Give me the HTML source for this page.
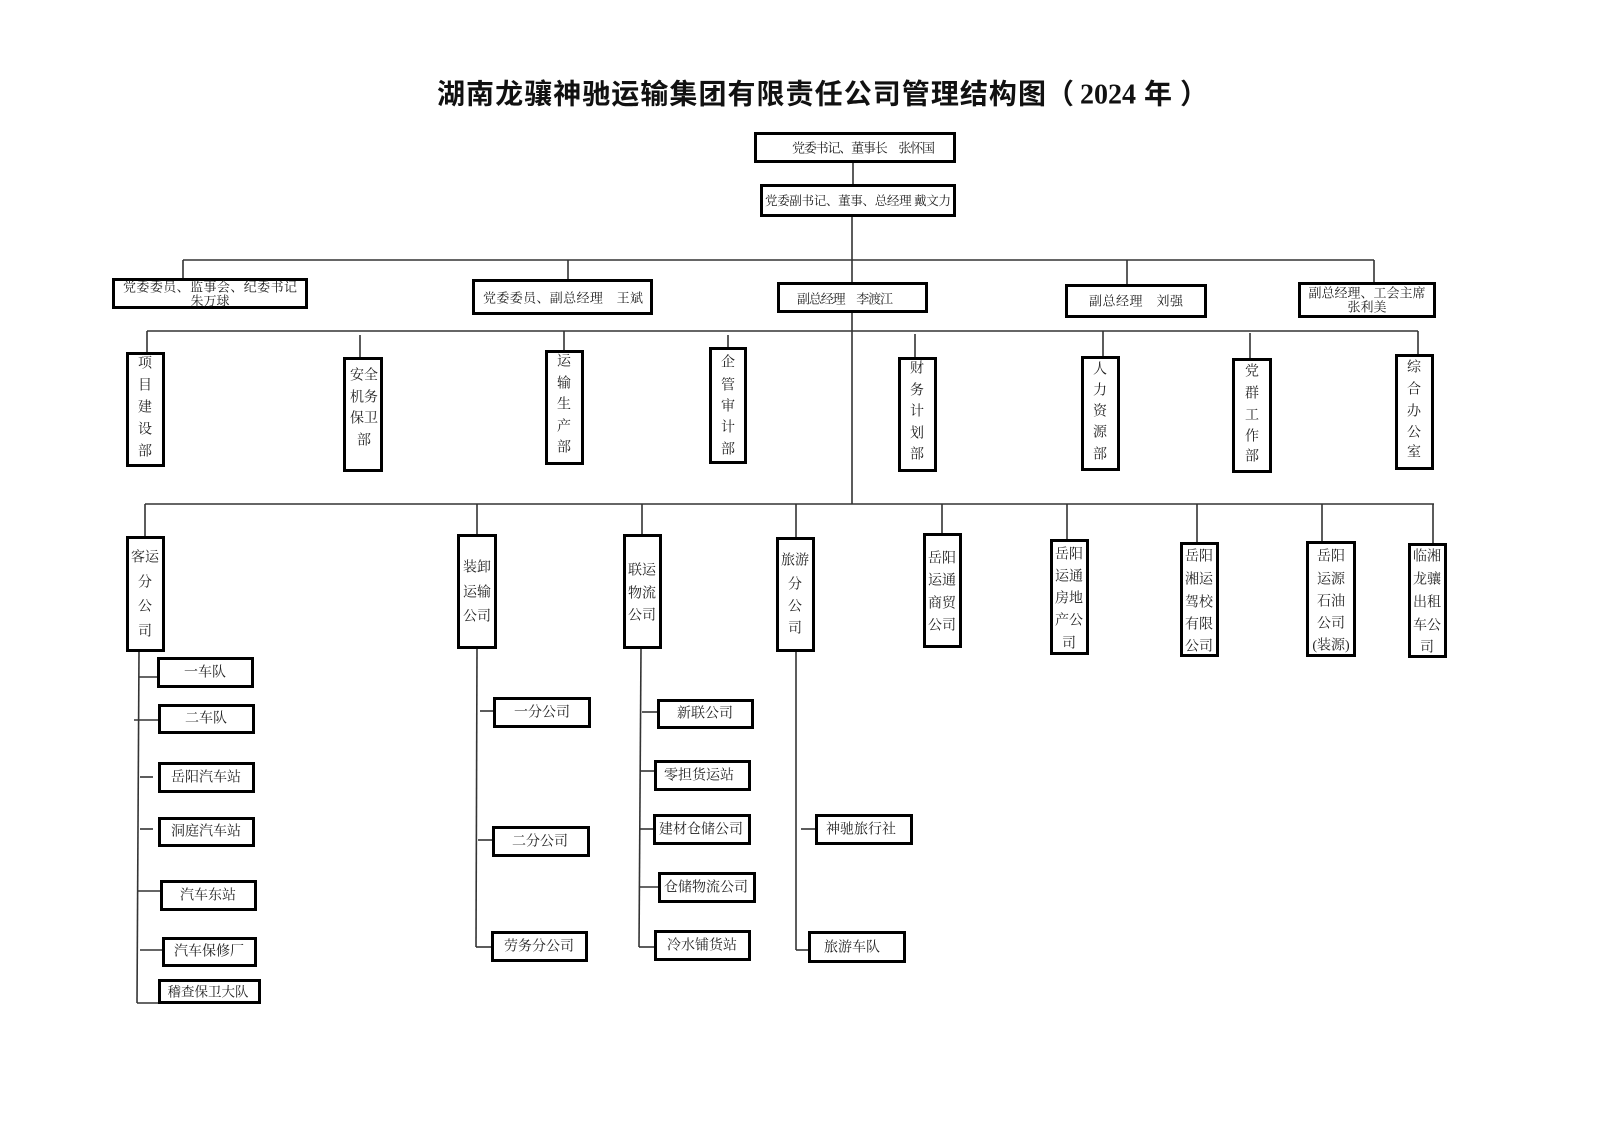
<!DOCTYPE html>
<html>
<head>
<meta charset="utf-8">
<style>
  html, body { margin: 0; padding: 0; background: #ffffff; }
  body { width: 1600px; height: 1131px; overflow: hidden; }
  svg { display: block; }
  .t { font-family: "Liberation Serif", "Noto Serif CJK SC", serif; fill: #222; }
  .ttl { font-family: "Liberation Serif", "Noto Sans CJK SC", sans-serif; font-weight: bold; fill: #111; }
  .ln { stroke: #333; stroke-width: 1.6; fill: none; }
  .bx { stroke: #000; stroke-width: 3; fill: #fff; }
</style>
</head>
<body>
<svg width="1600" height="1131" viewBox="0 0 1600 1131" xmlns="http://www.w3.org/2000/svg">
  <rect x="0" y="0" width="1600" height="1131" fill="#fff"/>

  <!-- Title -->
  <text class="ttl" x="437" y="95" font-size="28" dominant-baseline="central" textLength="609" lengthAdjust="spacing">湖南龙骧神驰运输集团有限责任公司管理结构图</text>
  <text class="ttl" x="1046" y="95" font-size="28" dominant-baseline="central">（</text>
  <text class="ttl" x="1080" y="95" font-size="28" dominant-baseline="central">2024</text>
  <text class="ttl" x="1144" y="95" font-size="28" dominant-baseline="central">年</text>
  <text class="ttl" x="1180" y="95" font-size="28" dominant-baseline="central">）</text>

  <!-- Connectors level 1 -->
  <line class="ln" x1="853" y1="163" x2="853" y2="185"/>
  <line class="ln" x1="852" y1="217" x2="852" y2="504"/>
  <line class="ln" x1="183" y1="260" x2="1374" y2="260"/>
  <line class="ln" x1="183" y1="260" x2="183" y2="279"/>
  <line class="ln" x1="568" y1="260" x2="568" y2="280"/>
  <line class="ln" x1="1127" y1="260" x2="1127" y2="285"/>
  <line class="ln" x1="1374" y1="260" x2="1374" y2="283"/>

  <!-- Connectors level 2 -->
  <line class="ln" x1="147" y1="331" x2="1418" y2="331"/>
  <line class="ln" x1="147" y1="331" x2="147" y2="353"/>
  <line class="ln" x1="360" y1="335" x2="360" y2="358"/>
  <line class="ln" x1="564" y1="331" x2="564" y2="351"/>
  <line class="ln" x1="728" y1="335" x2="728" y2="348"/>
  <line class="ln" x1="915" y1="334" x2="915" y2="358"/>
  <line class="ln" x1="1103" y1="331" x2="1103" y2="357"/>
  <line class="ln" x1="1250" y1="333" x2="1250" y2="359"/>
  <line class="ln" x1="1418" y1="331" x2="1418" y2="355"/>

  <!-- Connectors level 3 -->
  <line class="ln" x1="145" y1="504" x2="1434" y2="504"/>
  <line class="ln" x1="145" y1="504" x2="145" y2="537"/>
  <line class="ln" x1="477" y1="504" x2="477" y2="535"/>
  <line class="ln" x1="642" y1="504" x2="642" y2="535"/>
  <line class="ln" x1="796" y1="504" x2="796" y2="538"/>
  <line class="ln" x1="942" y1="504" x2="942" y2="534"/>
  <line class="ln" x1="1067" y1="504" x2="1067" y2="540"/>
  <line class="ln" x1="1197" y1="504" x2="1197" y2="543"/>
  <line class="ln" x1="1322" y1="504" x2="1322" y2="542"/>
  <line class="ln" x1="1433" y1="504" x2="1433" y2="544"/>

  <!-- Connectors level 4: 客运 -->
  <line class="ln" x1="139" y1="652" x2="137" y2="1003"/>
  <line class="ln" x1="137" y1="1003" x2="158" y2="1003"/>
  <line class="ln" x1="139" y1="677" x2="158" y2="677"/>
  <line class="ln" x1="134" y1="720" x2="159" y2="720"/>
  <line class="ln" x1="140" y1="777" x2="153" y2="777"/>
  <line class="ln" x1="140" y1="829" x2="153" y2="829"/>
  <line class="ln" x1="138" y1="891" x2="161" y2="891"/>
  <line class="ln" x1="140" y1="950" x2="163" y2="950"/>

  <!-- 装卸 -->
  <line class="ln" x1="477" y1="649" x2="476" y2="947"/>
  <line class="ln" x1="476" y1="947" x2="492" y2="947"/>
  <line class="ln" x1="480" y1="711" x2="494" y2="711"/>
  <line class="ln" x1="478" y1="840" x2="493" y2="840"/>

  <!-- 联运 -->
  <line class="ln" x1="641" y1="649" x2="639" y2="947"/>
  <line class="ln" x1="639" y1="947" x2="655" y2="947"/>
  <line class="ln" x1="642" y1="712" x2="658" y2="712"/>
  <line class="ln" x1="640" y1="771" x2="655" y2="771"/>
  <line class="ln" x1="640" y1="829" x2="654" y2="829"/>
  <line class="ln" x1="640" y1="887" x2="659" y2="887"/>

  <!-- 旅游 -->
  <line class="ln" x1="796" y1="652" x2="796" y2="950"/>
  <line class="ln" x1="796" y1="950" x2="809" y2="950"/>
  <line class="ln" x1="801" y1="829" x2="816" y2="829"/>

  <!-- Level 0/1 boxes -->
  <rect class="bx" x="755.5" y="133.5" width="199" height="28"/>
  <text class="t" x="792" y="148" font-size="13" dominant-baseline="central" textLength="143" lengthAdjust="spacing">党委书记、董事长　张怀国</text>

  <rect class="bx" x="761.5" y="185.5" width="193" height="30"/>
  <text class="t" x="858" y="201" font-size="12.5" text-anchor="middle" dominant-baseline="central" textLength="186" lengthAdjust="spacing">党委副书记、董事、总经理 戴文力</text>

  <rect class="bx" x="113.5" y="279.5" width="193" height="28"/>
  <text class="t" x="210" y="287" font-size="13" text-anchor="middle" dominant-baseline="central" textLength="174" lengthAdjust="spacing">党委委员、监事会、纪委书记</text>
  <text class="t" x="210" y="301" font-size="13" text-anchor="middle" dominant-baseline="central">朱万球</text>

  <rect class="bx" x="473.5" y="280.5" width="178" height="33"/>
  <text class="t" x="563" y="298" font-size="13" text-anchor="middle" dominant-baseline="central" textLength="160" lengthAdjust="spacing">党委委员、副总经理　王斌</text>

  <rect class="bx" x="778.5" y="283.5" width="148" height="28"/>
  <text class="t" x="845" y="299" font-size="13" text-anchor="middle" dominant-baseline="central" textLength="96" lengthAdjust="spacing">副总经理　李渡江</text>

  <rect class="bx" x="1066.5" y="285.5" width="139" height="31"/>
  <text class="t" x="1136" y="301" font-size="13" text-anchor="middle" dominant-baseline="central" textLength="94" lengthAdjust="spacing">副总经理　刘强</text>

  <rect class="bx" x="1299.5" y="283.5" width="135" height="33"/>
  <text class="t" x="1367" y="293" font-size="13" text-anchor="middle" dominant-baseline="central">副总经理、工会主席</text>
  <text class="t" x="1367" y="307" font-size="13" text-anchor="middle" dominant-baseline="central">张利美</text>

  <!-- Level 2 department boxes -->
  <g class="t" font-size="14" text-anchor="middle" dominant-baseline="central">
    <rect class="bx" x="127.5" y="353.5" width="36" height="112"/>
    <text x="145" y="364">项</text><text x="145" y="386">目</text><text x="145" y="408">建</text><text x="145" y="430">设</text><text x="145" y="452">部</text>

    <rect class="bx" x="344.5" y="358.5" width="37" height="112"/>
    <text x="364" y="376">安全</text><text x="364" y="398">机务</text><text x="364" y="419">保卫</text><text x="364" y="441">部</text>

    <rect class="bx" x="546.5" y="351.5" width="36" height="112"/>
    <text x="564" y="362">运</text><text x="564" y="384">输</text><text x="564" y="405">生</text><text x="564" y="427">产</text><text x="564" y="448">部</text>

    <rect class="bx" x="710.5" y="348.5" width="35" height="114"/>
    <text x="728" y="363">企</text><text x="728" y="386">管</text><text x="728" y="407">审</text><text x="728" y="428">计</text><text x="728" y="450">部</text>

    <rect class="bx" x="899.5" y="358.5" width="36" height="112"/>
    <text x="917" y="369">财</text><text x="917" y="391">务</text><text x="917" y="412">计</text><text x="917" y="434">划</text><text x="917" y="455">部</text>

    <rect class="bx" x="1082.5" y="357.5" width="36" height="112"/>
    <text x="1100" y="370">人</text><text x="1100" y="391">力</text><text x="1100" y="412">资</text><text x="1100" y="433">源</text><text x="1100" y="455">部</text>

    <rect class="bx" x="1233.5" y="359.5" width="37" height="112"/>
    <text x="1252" y="372">党</text><text x="1252" y="394">群</text><text x="1252" y="416">工</text><text x="1252" y="437">作</text><text x="1252" y="457">部</text>

    <rect class="bx" x="1396.5" y="355.5" width="36" height="113"/>
    <text x="1414" y="368">综</text><text x="1414" y="390">合</text><text x="1414" y="412">办</text><text x="1414" y="433">公</text><text x="1414" y="453">室</text>
  </g>

  <!-- Level 3 subsidiary boxes -->
  <g class="t" font-size="14" text-anchor="middle" dominant-baseline="central">
    <rect class="bx" x="127.5" y="537.5" width="36" height="113"/>
    <text x="145" y="558">客运</text><text x="145" y="583">分</text><text x="145" y="607">公</text><text x="145" y="632">司</text>

    <rect class="bx" x="458.5" y="535.5" width="37" height="112"/>
    <text x="477" y="568">装卸</text><text x="477" y="593">运输</text><text x="477" y="617">公司</text>

    <rect class="bx" x="624.5" y="535.5" width="36" height="112"/>
    <text x="642" y="571">联运</text><text x="642" y="594">物流</text><text x="642" y="616">公司</text>

    <rect class="bx" x="777.5" y="538.5" width="36" height="112"/>
    <text x="795" y="561">旅游</text><text x="795" y="585">分</text><text x="795" y="607">公</text><text x="795" y="629">司</text>

    <rect class="bx" x="924.5" y="534.5" width="36" height="112"/>
    <text x="942" y="559">岳阳</text><text x="942" y="581">运通</text><text x="942" y="604">商贸</text><text x="942" y="626">公司</text>

    <rect class="bx" x="1051.5" y="540.5" width="36" height="113"/>
    <text x="1069" y="555">岳阳</text><text x="1069" y="577">运通</text><text x="1069" y="599">房地</text><text x="1069" y="621">产公</text><text x="1069" y="644">司</text>

    <rect class="bx" x="1181.5" y="543.5" width="36" height="112"/>
    <text x="1199" y="557">岳阳</text><text x="1199" y="580">湘运</text><text x="1199" y="603">驾校</text><text x="1199" y="625">有限</text><text x="1199" y="647">公司</text>

    <rect class="bx" x="1307.5" y="542.5" width="47" height="113"/>
    <text x="1331" y="557">岳阳</text><text x="1331" y="580">运源</text><text x="1331" y="602">石油</text><text x="1331" y="624">公司</text><text x="1331" y="646">(装源)</text>

    <rect class="bx" x="1409.5" y="544.5" width="36" height="112"/>
    <text x="1427" y="557">临湘</text><text x="1427" y="580">龙骧</text><text x="1427" y="603">出租</text><text x="1427" y="626">车公</text><text x="1427" y="648">司</text>
  </g>

  <!-- Level 4 child boxes -->
  <g class="t" font-size="14" text-anchor="middle" dominant-baseline="central">
    <rect class="bx" x="158.5" y="658.5" width="94" height="28"/>
    <text x="205" y="673">一车队</text>
    <rect class="bx" x="159.5" y="705.5" width="94" height="27"/>
    <text x="206" y="719">二车队</text>
    <rect class="bx" x="159.5" y="763.5" width="94" height="28"/>
    <text x="206" y="778">岳阳汽车站</text>
    <rect class="bx" x="159.5" y="818.5" width="94" height="27"/>
    <text x="206" y="832">洞庭汽车站</text>
    <rect class="bx" x="161.5" y="881.5" width="94" height="28"/>
    <text x="208" y="896">汽车东站</text>
    <rect class="bx" x="163.5" y="938.5" width="92" height="27"/>
    <text x="209" y="952">汽车保修厂</text>
    <rect class="bx" x="159.5" y="980.5" width="100" height="22"/>
    <text x="208" y="992" font-size="13.5">稽查保卫大队</text>

    <rect class="bx" x="494.5" y="698.5" width="95" height="28"/>
    <text x="542" y="713">一分公司</text>
    <rect class="bx" x="493.5" y="827.5" width="95" height="28"/>
    <text x="540" y="842">二分公司</text>
    <rect class="bx" x="492.5" y="932.5" width="94" height="28"/>
    <text x="539" y="947">劳务分公司</text>

    <rect class="bx" x="658.5" y="700.5" width="94" height="27"/>
    <text x="705" y="714">新联公司</text>
    <rect class="bx" x="655.5" y="761.5" width="94" height="28"/>
    <text x="699" y="776">零担货运站</text>
    <rect class="bx" x="654.5" y="815.5" width="95" height="28"/>
    <text x="701" y="830">建材仓储公司</text>
    <rect class="bx" x="659.5" y="873.5" width="95" height="28"/>
    <text x="706" y="888">仓储物流公司</text>
    <rect class="bx" x="655.5" y="931.5" width="94" height="28"/>
    <text x="702" y="946">冷水铺货站</text>

    <rect class="bx" x="816.5" y="815.5" width="95" height="28"/>
    <text x="861" y="830">神驰旅行社</text>
    <rect class="bx" x="809.5" y="932.5" width="95" height="29"/>
    <text x="852" y="948">旅游车队</text>
  </g>
</svg>
</body>
</html>
